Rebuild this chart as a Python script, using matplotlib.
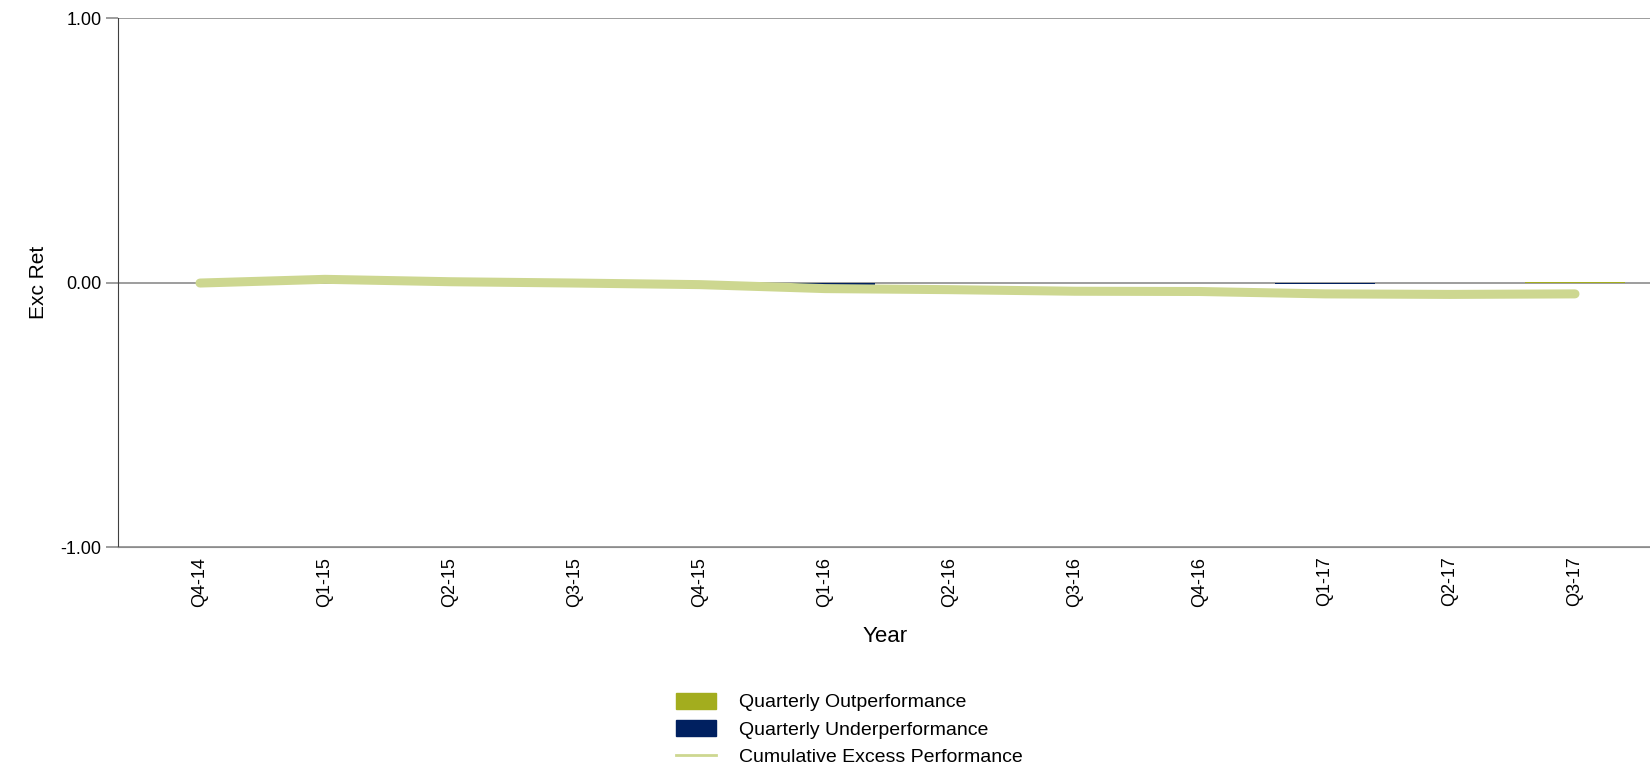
import numpy as np
import matplotlib
matplotlib.use("Agg")
import matplotlib.pyplot as plt
from matplotlib.patches import Patch
from matplotlib.lines import Line2D

plt.rcParams['font.family'] = ['Liberation Sans', 'DejaVu Sans']

quarters = ["Q4-14", "Q1-15", "Q2-15", "Q3-15", "Q4-15", "Q1-16",
            "Q2-16", "Q3-16", "Q4-16", "Q1-17", "Q2-17", "Q3-17"]
# quarterly excess return (very small values)
quarterly = [-0.002, 0.004, -0.006, -0.002, -0.004, -0.013,
             -0.003, -0.003, -0.003, -0.006, -0.003, 0.003]
# cumulative excess performance
cumulative = [-0.002, 0.012, 0.003, -0.002, -0.008, -0.023,
              -0.027, -0.033, -0.034, -0.043, -0.045, -0.043]

green = "#a3ad1e"
navy = "#002060"
line_col = "#cdd790"

x = np.arange(len(quarters))
q = np.array(quarterly)

fig = plt.figure(figsize=(16.5, 7.7), dpi=100)
ax = fig.add_axes([0.0715, 0.2896, 0.9285, 0.687])

# gridlines
for yv in (1.0, 0.0, -1.0):
    ax.axhline(yv, color="#8c8c8c", lw=1.2, zorder=1)

ax.bar(x[q >= 0], q[q >= 0], width=0.8, color=green, zorder=2)
ax.bar(x[q < 0], q[q < 0], width=0.8, color=navy, zorder=2)
ax.plot(x, cumulative, color=line_col, lw=6.5, solid_capstyle="round",
        solid_joinstyle="round", zorder=3)

ax.set_xlim(-0.656, 11.6)
ax.set_ylim(-1, 1)
ax.set_yticks([-1, 0, 1])
ax.set_yticklabels(["-1.00", "0.00", "1.00"])
ax.set_xticks(x)
ax.set_xticklabels(quarters, rotation=90)
ax.tick_params(axis="x", length=0, pad=7, labelsize=13)
ax.tick_params(axis="y", length=9, width=1.2, color="#8c8c8c", labelsize=13, pad=3)

for s in ("top", "right"):
    ax.spines[s].set_visible(False)
ax.spines["bottom"].set_color("#8c8c8c")
ax.spines["left"].set_color("#404040")

ax.set_ylabel("Exc Ret", fontsize=15)
ax.yaxis.set_label_coords(-0.046, 0.5)
ax.set_xlabel("Year", fontsize=16)
ax.xaxis.set_label_coords(0.501, -0.149)

handles = [Patch(color=green), Patch(color=navy),
           Line2D([0], [0], color=line_col, lw=2)]
labels = ["Quarterly Outperformance", "Quarterly Underperformance",
          "Cumulative Excess Performance"]
fig.legend(handles, labels, loc="upper left", bbox_to_anchor=(0.4095, 0.1),
           frameon=False, fontsize=14, handlelength=2.05, handleheight=0.85,
           labelspacing=0.45, handletextpad=1.2, borderpad=0, borderaxespad=0)

fig.savefig("out.png", dpi=100)
